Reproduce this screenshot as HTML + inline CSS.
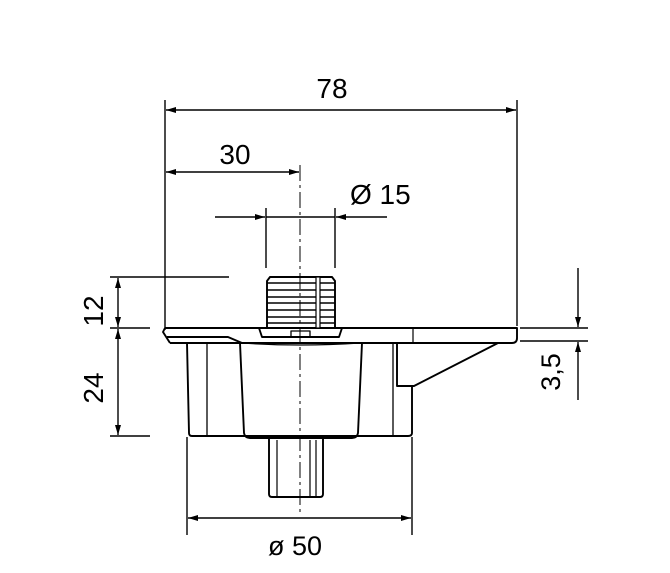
<!DOCTYPE html>
<html><head><meta charset="utf-8"><style>
html,body{margin:0;padding:0;background:#fff;}
svg{display:block;}
text{font-family:"Liberation Sans","DejaVu Sans",sans-serif;fill:#000;}
</style></head><body>
<svg width="670" height="573" viewBox="0 0 670 573" xmlns="http://www.w3.org/2000/svg">
<defs>
<marker id="a" viewBox="0 0 10 6" refX="10" refY="3" markerWidth="11" markerHeight="6" orient="auto-start-reverse" markerUnits="userSpaceOnUse">
<path d="M0,0 L10,3 L0,6 Z" fill="#000"/></marker>
</defs>
<g stroke="#000" stroke-width="1.4" fill="none">
<line x1="165" y1="100" x2="165" y2="330"/>
<line x1="517" y1="100" x2="517" y2="326"/>
<line x1="166" y1="110" x2="516" y2="110" marker-start="url(#a)" marker-end="url(#a)"/>
<line x1="166" y1="172" x2="299" y2="172" marker-start="url(#a)" marker-end="url(#a)"/>
<line x1="300" y1="165" x2="300" y2="513" stroke-dasharray="16,4,3,4" stroke-width="1"/>
<line x1="266" y1="208" x2="266" y2="268"/>
<line x1="335" y1="208" x2="335" y2="268"/>
<line x1="215" y1="217" x2="265" y2="217" marker-end="url(#a)"/>
<line x1="387" y1="217" x2="336" y2="217" marker-end="url(#a)"/>
<line x1="266" y1="217" x2="335" y2="217"/>
<line x1="110" y1="277" x2="229" y2="277"/>
<line x1="110" y1="328" x2="150" y2="328"/>
<line x1="110" y1="436" x2="150" y2="436"/>
<line x1="118" y1="278" x2="118" y2="327" marker-start="url(#a)" marker-end="url(#a)"/>
<line x1="118" y1="329" x2="118" y2="435" marker-start="url(#a)" marker-end="url(#a)"/>
<line x1="520" y1="328" x2="588" y2="328"/>
<line x1="520" y1="341" x2="588" y2="341"/>
<line x1="578" y1="268" x2="578" y2="327" marker-end="url(#a)"/>
<line x1="578" y1="400" x2="578" y2="342" marker-end="url(#a)"/>
<line x1="187" y1="437" x2="187" y2="535"/>
<line x1="412" y1="437" x2="412" y2="535"/>
<line x1="188" y1="518" x2="411" y2="518" marker-start="url(#a)" marker-end="url(#a)"/>
</g>
<g stroke="#000" stroke-width="1.9" fill="none" stroke-linejoin="round">
<path d="M165,328 L517,328 L517,338 Q517,343 512,343 L170,343"/>
<path d="M165,328 L163,332 L170,343"/>
<path d="M167,337 L228,337 L242,343"/>
<line x1="413" y1="328" x2="413" y2="343" stroke-width="1.2"/>
<path d="M187,343 L189,433 Q189,436 192,436 L408,436 Q412,436 412,433 L412,386"/>
<line x1="207" y1="343" x2="207" y2="436" stroke-width="1.3"/>
<path d="M240,343 L244,433 Q245,438 250,438 L352,438 Q357,438 358,433 L362,343"/>
<line x1="393" y1="343" x2="393" y2="436" stroke-width="1.3"/>
<path d="M397,343 L397,386 L414,386 L498,343"/>
<path d="M242,343 Q300,347 360,343" stroke-width="1.2"/>
<path d="M269,438 L269,494 Q269,497 272,497 L320,497 Q323,497 323,494 L323,438"/>
<line x1="277" y1="440" x2="277" y2="497" stroke-width="1.2"/>
<line x1="310" y1="440" x2="310" y2="497" stroke-width="1.2"/>
<line x1="316" y1="440" x2="316" y2="497" stroke-width="1.2"/>
<path d="M259,328 L262,337 L339,337 L342,328"/>
<path d="M291,337 L291,331 L310,331 L310,337" stroke-width="1.3"/>
<path d="M267,328 L267,281 L270,277 L332,277 L335,281 L335,328"/>
</g>
<g stroke="#000" stroke-width="1.5">
<line x1="267" y1="283" x2="335" y2="283"/>
<line x1="267" y1="290" x2="335" y2="290"/>
<line x1="267" y1="297" x2="335" y2="297"/>
<line x1="267" y1="303" x2="335" y2="303"/>
<line x1="267" y1="310" x2="335" y2="310"/>
<line x1="267" y1="317" x2="335" y2="317"/>
<line x1="267" y1="323" x2="335" y2="323"/>
</g>
<rect x="316" y="277" width="4" height="51" fill="#fff" stroke="#000" stroke-width="1.2"/>
<text x="332" y="98" font-size="28" text-anchor="middle">78</text>
<text x="235" y="164" font-size="28" text-anchor="middle">30</text>
<text x="350" y="204" font-size="28">Ø 15</text>
<text x="295" y="555" font-size="27" text-anchor="middle">ø 50</text>
<text transform="translate(103,311) rotate(-90)" font-size="28" text-anchor="middle">12</text>
<text transform="translate(103,388) rotate(-90)" font-size="28" text-anchor="middle">24</text>
<text transform="translate(560,372) rotate(-90)" font-size="27" text-anchor="middle">3,5</text>
</svg>
</body></html>
